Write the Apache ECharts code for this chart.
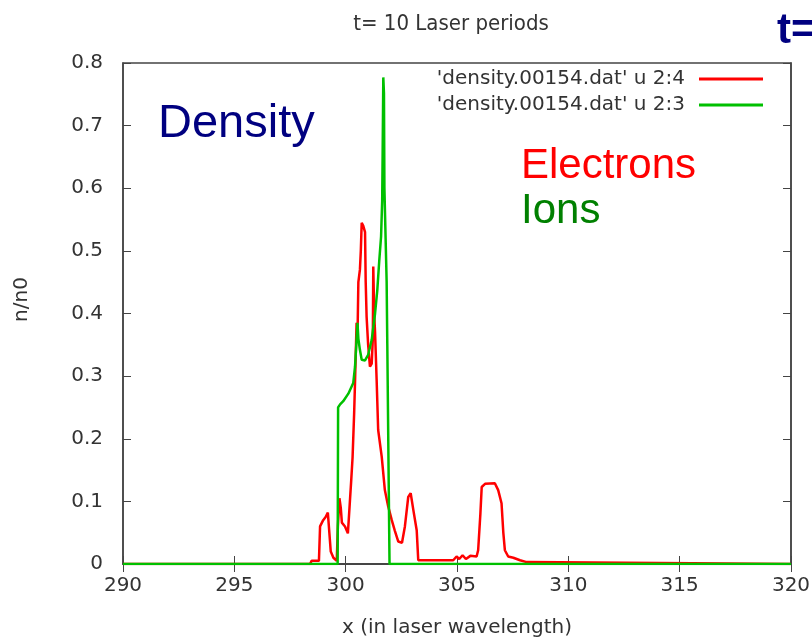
<!DOCTYPE html>
<html>
<head>
<meta charset="utf-8">
<script src="https://cdn.jsdelivr.net/npm/echarts@6/dist/echarts.min.js"></script>
<style>
  html, body { margin: 0; padding: 0; background: #fff; }
  #chart { width: 812px; height: 640px; }
</style>
</head>
<body>
<div id="chart"></div>
<script>
// electrons, column 2:4
var xElec = [290, 298.4, 298.47, 298.8, 298.85, 298.99, 299.1, 299.2, 299.27, 299.33, 299.45, 299.6,
  299.65, 299.72, 299.78, 299.83, 299.97, 300.1, 300.19, 300.25, 300.31, 300.38, 300.42, 300.49,
  300.53, 300.57, 300.64, 300.68, 300.72, 300.79, 300.87, 300.9, 300.94, 301.01, 301.09, 301.17,
  301.22, 301.24, 301.28, 301.32, 301.39, 301.46, 301.62, 301.76, 301.91, 302.07, 302.21, 302.36,
  302.53, 302.66, 302.81, 302.92, 303.04, 303.19, 303.26, 304.83, 304.98, 305.1, 305.25, 305.4,
  305.6, 305.88, 305.95, 306.05, 306.11, 306.26, 306.7, 306.85, 307.0, 307.08, 307.15, 307.3,
  307.53, 307.83, 308.13, 308.2, 320];
var yElec = [0, 0, 0.005, 0.005, 0.06, 0.07, 0.075, 0.082, 0.084, 0.02, 0.01, 0.005,
  0.06, 0.105, 0.09, 0.066, 0.06, 0.049, 0.1, 0.134, 0.17, 0.24, 0.29, 0.385,
  0.36, 0.45, 0.47, 0.5, 0.545, 0.54, 0.53, 0.45, 0.395, 0.35, 0.315, 0.32,
  0.36, 0.475, 0.40, 0.37, 0.295, 0.214, 0.171, 0.118, 0.092, 0.07, 0.053, 0.036,
  0.034, 0.06, 0.107, 0.113, 0.086, 0.054, 0.006, 0.006, 0.012, 0.008, 0.014, 0.008,
  0.013, 0.012, 0.022, 0.08, 0.123, 0.128, 0.129, 0.118, 0.097, 0.05, 0.022, 0.012,
  0.01, 0.006, 0.003, 0, 0];

// ions, column 2:3
var xIons = [290, 299.64, 299.66, 299.75, 299.89, 300.12, 300.34, 300.42, 300.49, 300.53, 300.57,
  300.64, 300.72, 300.87, 301.01, 301.17, 301.32, 301.42, 301.51, 301.59, 301.64, 301.66, 301.69,
  301.72, 301.74, 301.78, 301.84, 301.87, 301.97, 320];
var yIons = [0, 0, 0.25, 0.255, 0.26, 0.272, 0.289, 0.315, 0.358, 0.385, 0.36,
  0.342, 0.326, 0.325, 0.334, 0.358, 0.4, 0.437, 0.485, 0.523, 0.58, 0.653, 0.777,
  0.752, 0.6, 0.6, 0.451, 0.35, 0, 0];

var seriesNames = ["'density.00154.dat' u 2:4", "'density.00154.dat' u 2:3"];

function pairs(xs, ys) {
  return xs.map(function (x, i) { return [x, ys[i]]; });
}

var chart = echarts.init(document.getElementById("chart"));
var font = "DejaVu Sans";
var axisColor = "#444";
var textColor = "#333";

chart.setOption({
  animation: false,
  title: {
    text: "t= 10 Laser periods",
    left: 446,
    textAlign: "center",
    top: 8,
    textStyle: { fontFamily: "DejaVu Sans Condensed, DejaVu Sans", fontSize: 22, fontWeight: "normal", color: textColor }
  },
  legend: {
    orient: "vertical",
    right: 49,
    top: 69,
    padding: 0,
    align: "right",
    itemWidth: 64,
    itemHeight: 3,
    itemGap: 6,
    icon: "rect",
    textStyle: { fontFamily: font, fontSize: 20, color: textColor, padding: [0, 9, 0, 0] },
    data: seriesNames
  },
  grid: {
    left: 123,
    right: 21,
    top: 63,
    bottom: 76,
    outerBoundsMode: "none",
    containLabel: false,
    show: true,
    borderColor: axisColor,
    borderWidth: 1.5
  },
  xAxis: [{
    type: "value",
    min: 290,
    max: 320,
    interval: 5,
    name: "x (in laser wavelength)",
    nameLocation: "middle",
    nameGap: 54,
    nameTextStyle: { fontFamily: font, fontSize: 20, color: textColor },
    axisLine: { lineStyle: { color: axisColor, width: 1.5 } },
    axisTick: { inside: true, length: 8, lineStyle: { color: axisColor } },
    axisLabel: { fontFamily: font, fontSize: 20, color: textColor, margin: 12 },
    splitLine: { show: false }
  }, {
    type: "value",
    position: "top",
    min: 290,
    max: 320,
    interval: 5,
    axisLine: { lineStyle: { color: axisColor, width: 1.5 } },
    axisTick: { inside: true, length: 8, lineStyle: { color: axisColor } },
    axisLabel: { show: false },
    splitLine: { show: false }
  }],
  yAxis: [{
    type: "value",
    min: 0,
    max: 0.8,
    interval: 0.1,
    name: "n/n0",
    nameLocation: "middle",
    nameGap: 91,
    nameTextStyle: { fontFamily: font, fontSize: 20, color: textColor, padding: [0, 0, 0, 28] },
    axisLine: { show: true, lineStyle: { color: axisColor, width: 1.5 } },
    axisTick: { show: true, inside: true, length: 8, lineStyle: { color: axisColor } },
    axisLabel: { fontFamily: font, fontSize: 20, color: textColor, margin: 20 },
    splitLine: { show: false }
  }, {
    type: "value",
    position: "right",
    min: 0,
    max: 0.8,
    interval: 0.1,
    axisLine: { show: true, lineStyle: { color: axisColor, width: 1.5 } },
    axisTick: { show: true, inside: true, length: 8, lineStyle: { color: axisColor } },
    axisLabel: { show: false },
    splitLine: { show: false }
  }],
  graphic: [
    { type: "text", left: 158, top: 101, style: { text: "Density", fontFamily: "Liberation Sans", fontSize: 47, fill: "#000080" } },
    { type: "text", left: 521, top: 145, style: { text: "Electrons", fontFamily: "Liberation Sans", fontSize: 42, fill: "#ff0000" } },
    { type: "text", left: 521, top: 190, style: { text: "Ions", fontFamily: "Liberation Sans", fontSize: 42, fill: "#008000" } },
    { type: "text", left: 777, top: 10, style: { text: "t=", fontFamily: "Liberation Sans", fontSize: 42, fontWeight: "bold", fill: "#000080" } }
  ],
  series: [{
    name: seriesNames[0],
    type: "line",
    showSymbol: false,
    color: "#ff0000",
    lineStyle: { width: 2.5 },
    data: pairs(xElec, yElec)
  }, {
    name: seriesNames[1],
    type: "line",
    showSymbol: false,
    color: "#00c000",
    lineStyle: { width: 2.5 },
    data: pairs(xIons, yIons)
  }]
});
</script>
</body>
</html>
